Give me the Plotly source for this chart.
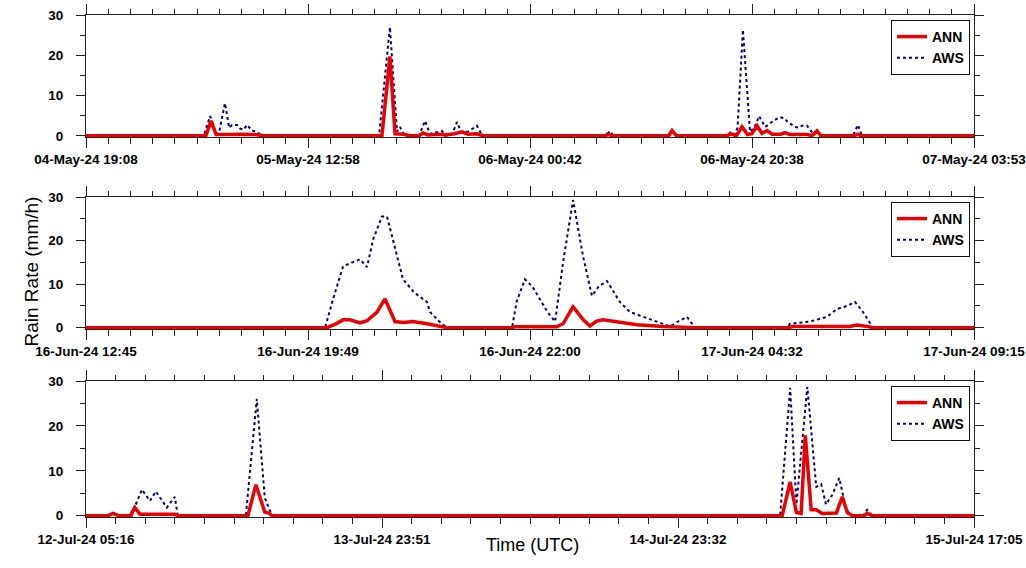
import plotly.graph_objects as go

# ---------------- data ----------------
# Panel 1 (04-07 May 2024), x = sample position on a 0..40 axis
p1_ticktext = ["04-May-24 19:08", "05-May-24 12:58", "06-May-24 00:42", "06-May-24 20:38", "07-May-24 03:53"]
p1_ann_x = [0, 5.40, 5.63, 5.86, 6.5, 7.0, 7.6, 8.0, 13.33, 13.69, 13.92, 14.3, 14.6, 15.0, 15.18, 15.4,
            15.95, 16.2, 16.6, 16.94, 17.2, 17.61, 17.9, 23.4, 23.51, 23.7, 26.25, 26.40, 26.6, 28.9,
            29.01, 29.3, 29.55, 29.8, 30.0, 30.23, 30.45, 30.68, 30.9, 31.13, 31.3, 31.49, 31.7, 32.5,
            32.7, 32.93, 33.1, 34.6, 34.77, 34.9, 40]
p1_ann_y = [0, 0, 3.7, 0.3, 0.3, 0.4, 0.3, 0, 0, 19.7, 0.5, 0.4, 0, 0, 0.7, 0.2,
            0.4, 0.2, 0.5, 1.0, 0.4, 0.5, 0, 0, 0.4, 0, 0, 1.3, 0, 0,
            0.5, 0.1, 2.2, 0.3, 0.5, 2.5, 0.6, 1.3, 0.4, 0.5, 0.4, 0.8, 0.3, 0.3,
            0, 1.2, 0, 0, 0.4, 0, 0]
p1_aws_x = [0, 5.3, 5.59, 5.86, 6.0, 6.26, 6.45, 6.58, 6.80, 6.94, 7.1, 7.25, 7.48, 7.70, 7.9, 13.2,
            13.69, 14.01, 14.14, 14.35, 15.0, 15.27, 15.5, 16.04, 16.2, 16.5, 16.71, 16.9, 17.2, 17.61,
            17.85, 23.4, 23.60, 23.75, 26.25, 26.40, 26.6, 28.8, 29.01, 29.2, 29.35, 29.59, 29.91, 30.1,
            30.32, 30.59, 30.8, 30.95, 31.26, 31.45, 31.62, 31.94, 32.1, 32.25, 32.48, 32.75, 32.93,
            33.1, 34.55, 34.77, 34.95, 40]
p1_aws_y = [0, 0, 4.9, 0.5, 1.0, 8.1, 2.0, 2.7, 2.7, 1.8, 1.5, 2.7, 1.3, 1.0, 0, 0,
            27.0, 1.0, 2.2, 0, 0, 3.7, 0.5, 1.2, 0, 0.5, 3.4, 1.0, 1.0, 2.5,
            0, 0, 1.2, 0, 0, 1.3, 0, 0, 0.8, 0, 2.0, 26.3, 1.0, 2.0,
            4.9, 2.2, 3.0, 3.7, 4.6, 4.4, 3.4, 2.2, 2.0, 2.5, 2.5, 0.5, 1.0,
            0, 0, 2.7, 0, 0]

# Panel 2 (16-17 June 2024)
p2_ticktext = ["16-Jun-24 12:45", "16-Jun-24 19:49", "16-Jun-24 22:00", "17-Jun-24 04:32", "17-Jun-24 09:15"]
p2_ann_x = [0, 10.86, 11.3, 11.58, 11.89, 12.34, 12.66, 13.11, 13.47, 13.92, 14.3, 14.73, 15.36, 15.95,
            16.26, 19.19, 19.3, 21.2, 21.49, 21.94, 22.4, 22.7, 23.0, 23.29, 23.6, 23.92, 24.82, 25.99,
            27.34, 27.5, 31.7, 31.8, 34.4, 34.73, 35.2, 35.45, 40]
p2_ann_y = [0, 0, 1.0, 1.8, 1.8, 1.1, 1.6, 3.6, 6.6, 1.4, 1.2, 1.4, 0.9, 0.3,
            0, 0, 0.2, 0.2, 0.9, 4.8, 1.8, 0.4, 1.5, 1.8, 1.6, 1.3, 0.7, 0.3,
            0.2, 0, 0, 0.3, 0.3, 0.6, 0.3, 0, 0]
p2_aws_x = [0, 10.77, 11.13, 11.58, 12.34, 12.66, 12.93, 13.33, 13.56, 13.92, 14.28, 14.8, 15.36, 15.5,
            15.9, 16.26, 19.19, 19.4, 19.77, 20.1, 20.45, 20.8, 21.13, 21.49, 21.94, 22.39, 22.79, 23.1,
            23.47, 24.05, 24.5, 25.41, 26.31, 26.7, 27.07, 27.43, 31.6, 31.71, 32.61, 33.38, 33.83,
            34.28, 34.64, 35.0, 35.45, 40]
p2_aws_y = [0, 0, 6.6, 14.1, 15.7, 13.9, 20.2, 25.5, 25.5, 18.6, 11.1, 8.0, 5.9, 3.6,
            1.5, 0, 0, 6.0, 11.1, 9.5, 6.6, 3.5, 1.4, 15.0, 29.3, 16.4, 7.3, 9.5,
            10.7, 5.9, 3.6, 2.0, 0.3, 1.5, 2.5, 0, 0, 0.9, 1.4, 2.5, 4.3,
            5.0, 5.9, 3.6, 0, 0]

# Panel 3 (12-15 July 2024), x on a 0..30 axis
p3_ticktext = ["12-Jul-24 05:16", "13-Jul-24 23:51", "14-Jul-24 23:32", "15-Jul-24 17:05"]
p3_ann_x = [0, 0.75, 0.91, 1.1, 1.5, 1.65, 1.82, 3.0, 3.1, 5.47, 5.74, 6.04, 6.2, 6.28, 23.52, 23.79,
            24.0, 24.16, 24.3, 24.5, 24.67, 24.87, 25.35, 25.55, 25.72, 25.89, 26.3, 26.39, 26.56, 30]
p3_ann_y = [0, 0, 0.5, 0, 0, 1.8, 0.3, 0.3, 0, 0, 6.9, 0.8, 0.5, 0, 0, 7.5,
            0.7, 0.5, 17.9, 1.3, 1.3, 0.5, 0.6, 4.2, 0.7, 0, 0, 0.5, 0, 0]
p3_aws_x = [0, 0.8, 0.91, 1.05, 1.55, 1.65, 1.89, 2.16, 2.36, 2.73, 3.0, 3.1, 5.4, 5.77, 6.04, 6.28,
            23.45, 23.79, 24.0, 24.37, 24.67, 24.84, 25.0, 25.21, 25.45, 25.68, 25.89, 26.25, 26.39,
            26.56, 30]
p3_aws_y = [0, 0, 0.7, 0, 0, 2.0, 5.8, 3.3, 5.4, 1.8, 4.2, 0, 0, 26.0, 4.0, 0,
            0, 28.5, 2.5, 28.7, 6.4, 7.0, 2.5, 4.6, 8.4, 1.3, 0, 0, 1.3,
            0, 0]

y_ticks = [0, 10, 20, 30]
series_names = ["ANN", "AWS"]

# ---------------- styling ----------------
W, H = 1026, 568
FONT = "Liberation Sans, Arial, sans-serif"
RED = "#ee0000"
NAVY = "#000080"
AX = "#222222"

x_left, x_right = 86, 974
panels = [  # (top px, bottom px)
    (15, 137),
    (197, 329),
    (381, 517),
]

fig = go.Figure()

data = [
    (p1_ann_x, p1_ann_y, p1_aws_x, p1_aws_y, p1_ticktext, 40),
    (p2_ann_x, p2_ann_y, p2_aws_x, p2_aws_y, p2_ticktext, 40),
    (p3_ann_x, p3_ann_y, p3_aws_x, p3_aws_y, p3_ticktext, 30),
]

for i, ((ax_, ay_, wx_, wy_, ttext, xmax), (top, bot)) in enumerate(zip(data, panels)):
    n = i + 1
    sfx = "" if n == 1 else str(n)
    leg = "legend" if n == 1 else f"legend{n}"
    fig.add_trace(go.Scatter(x=wx_, y=wy_, mode="lines", name=series_names[1],
                             line=dict(color=NAVY, width=2, dash="dot"),
                             xaxis=f"x{sfx}", yaxis=f"y{sfx}", legend=leg, legendrank=2))
    fig.add_trace(go.Scatter(x=ax_, y=ay_, mode="lines", name=series_names[0],
                             line=dict(color=RED, width=3.5),
                             xaxis=f"x{sfx}", yaxis=f"y{sfx}", legend=leg, legendrank=1))
    # empty helper traces so the mirrored tick axes (top / right) get drawn
    fig.add_trace(go.Scatter(x=[], y=[], mode="lines", showlegend=False, hoverinfo="skip",
                             xaxis=f"x{n + 3}", yaxis=f"y{sfx}"))
    fig.add_trace(go.Scatter(x=[], y=[], mode="lines", showlegend=False, hoverinfo="skip",
                             xaxis=f"x{sfx}", yaxis=f"y{n + 3}"))

    xdom = [x_left / W, x_right / W]
    ydom = [1 - bot / H, 1 - top / H]
    xvals = [k * 10 for k in range(len(ttext))]
    xa = dict(domain=xdom, range=[0, xmax], anchor=f"y{sfx}",
              tickmode="array", tickvals=xvals, ticktext=ttext,
              ticks="outside", ticklen=10, tickcolor=AX, tickwidth=1,
              minor=dict(ticks="outside", ticklen=6, dtick=1, tick0=0, tickcolor=AX, showgrid=False),
              showline=True, linecolor=AX, linewidth=1, mirror=True,
              showgrid=False, zeroline=False, automargin=False, ticklabeloverflow="allow",
              tickfont=dict(family=FONT, size=13.5, color="black", weight="bold"))
    ya = dict(domain=ydom, range=[-0.3, 30], anchor=f"x{sfx}",
              tickmode="array", tickvals=y_ticks,
              ticks="outside", ticklen=9, tickcolor=AX, tickwidth=1,
              minor=dict(ticks="outside", ticklen=5, dtick=5, tick0=0, tickcolor=AX, showgrid=False),
              showline=True, linecolor=AX, linewidth=1, mirror=True,
              showgrid=False, zeroline=False, ticklabelstandoff=10, automargin=False,
              tickfont=dict(family=FONT, size=13.5, color="black", weight="bold"))
    # mirrored tick axes (top / right), ticks only
    xt = dict(domain=xdom, range=[0, xmax], anchor=f"y{sfx}", overlaying=f"x{sfx}", side="top",
              tickmode="array", tickvals=xvals, showticklabels=False,
              ticks="outside", ticklen=10, tickcolor=AX, tickwidth=1,
              minor=dict(ticks="outside", ticklen=5, dtick=1, tick0=0, tickcolor=AX, showgrid=False),
              showline=False, showgrid=False, zeroline=False, automargin=False)
    yr = dict(domain=ydom, range=[-0.3, 30], anchor=f"x{sfx}", overlaying=f"y{sfx}", side="right",
              tickmode="array", tickvals=y_ticks, showticklabels=False,
              ticks="outside", ticklen=9, tickcolor=AX, tickwidth=1,
              minor=dict(ticks="outside", ticklen=5, dtick=5, tick0=0, tickcolor=AX, showgrid=False),
              showline=False, showgrid=False, zeroline=False, automargin=False)
    fig.layout[f"xaxis{sfx}"] = xa
    fig.layout[f"yaxis{sfx}"] = ya
    fig.layout[f"xaxis{n + 3}"] = xt
    fig.layout[f"yaxis{n + 3}"] = yr
    fig.layout[leg] = dict(x=970 / W, xanchor="right", y=1 - (top + 5) / H, yanchor="top",
                           bgcolor="white", bordercolor="#111111", borderwidth=1,
                           font=dict(family=FONT, size=14, color="black", weight="bold"),
                           tracegroupgap=0, itemwidth=30)

fig.add_annotation(text="Rain Rate (mm/h)", x=18 / W, y=1 - 272 / H, xref="paper", yref="paper",
                   textangle=-90, showarrow=False,
                   font=dict(family=FONT, size=19, color="black"))
fig.add_annotation(text="Time (UTC)", x=532 / W, y=1 - 557 / H, xref="paper", yref="paper",
                   showarrow=False, font=dict(family=FONT, size=18, color="black"))

fig.update_layout(width=W, height=H, margin=dict(l=0, r=0, t=0, b=0, autoexpand=False),
                  paper_bgcolor="white", plot_bgcolor="white", showlegend=True)

fig.write_html("out.html")
